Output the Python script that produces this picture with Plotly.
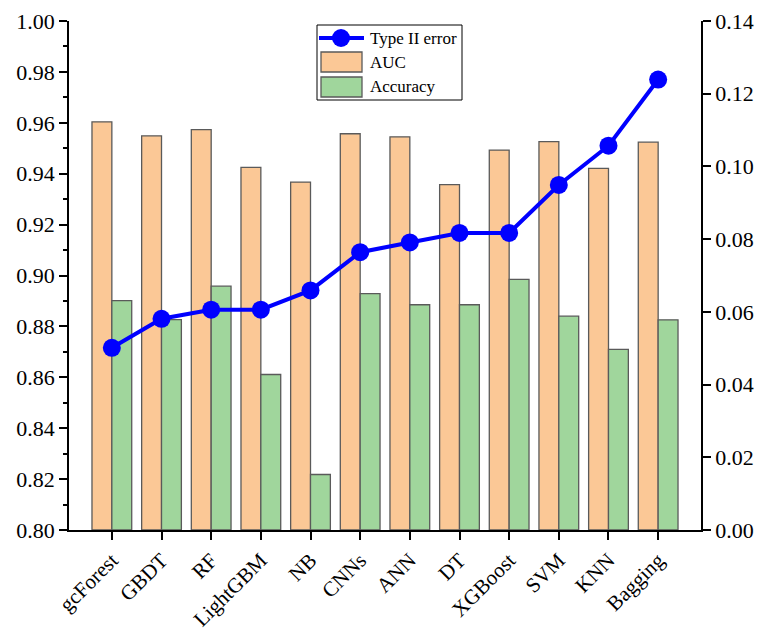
import plotly.graph_objects as go

models = ["gcForest", "GBDT", "RF", "LightGBM", "NB", "CNNs", "ANN", "DT",
          "XGBoost", "SVM", "KNN", "Bagging"]
auc = [0.9604, 0.9549, 0.9573, 0.9425, 0.9367, 0.9557, 0.9545, 0.9357,
       0.9493, 0.9526, 0.9421, 0.9524]
accuracy = [0.8901, 0.8827, 0.8958, 0.8611, 0.8218, 0.8929, 0.8885, 0.8885,
            0.8985, 0.8840, 0.8710, 0.8826]
type2_error = [0.0501, 0.0581, 0.0606, 0.0606, 0.0659, 0.0764, 0.0791, 0.0817,
               0.0817, 0.0949, 0.1057, 0.1239]

left_ticks = [0.80, 0.82, 0.84, 0.86, 0.88, 0.90, 0.92, 0.94, 0.96, 0.98, 1.00]
right_ticks = [0.00, 0.02, 0.04, 0.06, 0.08, 0.10, 0.12, 0.14]

FONT = "Liberation Serif"
ORANGE = "#FBC896"
GREEN = "#A0D69C"
BLUE = "#0000FF"
EDGE = "#5a5a5a"

W, H = 757, 634
ML, MR, MT, MB = 69, 56, 21, 104
PW, PH = W - ML - MR, H - MT - MB


def px(x):
    """Horizontal pixel position -> paper fraction."""
    return (x - ML) / PW


def py(y):
    """Vertical pixel position (from top) -> paper fraction."""
    return (H - MB - y) / PH


fig = go.Figure()

fig.add_trace(go.Scatter(
    x=models, y=type2_error, name="Type II error", yaxis="y2",
    mode="lines+markers",
    line=dict(color=BLUE, width=4),
    marker=dict(color=BLUE, size=18),
    showlegend=False,
))
fig.add_trace(go.Bar(
    x=models, y=[v - 0.8 for v in auc], base=0.8, name="AUC",
    marker=dict(color=ORANGE, line=dict(color=EDGE, width=1.3)),
    showlegend=False,
))
fig.add_trace(go.Bar(
    x=models, y=[v - 0.8 for v in accuracy], base=0.8, name="Accuracy",
    marker=dict(color=GREEN, line=dict(color=EDGE, width=1.3)),
    showlegend=False,
))

# Legend box with wide swatches
shapes = [
    dict(type="rect", xref="paper", yref="paper",
         x0=px(317), x1=px(462), y0=py(100), y1=py(25),
         line=dict(color="black", width=1), fillcolor="white", layer="above"),
    dict(type="line", xref="paper", yref="paper",
         x0=px(319), x1=px(364), y0=py(38), y1=py(38),
         line=dict(color=BLUE, width=4), layer="above"),
    dict(type="circle", xref="paper", yref="paper",
         xsizemode="pixel", ysizemode="pixel",
         xanchor=px(341), yanchor=py(38),
         x0=-9, x1=9, y0=-9, y1=9,
         line=dict(color=BLUE, width=0), fillcolor=BLUE, layer="above"),
    dict(type="rect", xref="paper", yref="paper",
         x0=px(321), x1=px(362), y0=py(72), y1=py(52),
         line=dict(color=EDGE, width=1.3), fillcolor=ORANGE, layer="above"),
    dict(type="rect", xref="paper", yref="paper",
         x0=px(321), x1=px(362), y0=py(97), y1=py(77),
         line=dict(color=EDGE, width=1.3), fillcolor=GREEN, layer="above"),
]
legend_font = dict(family=FONT, size=17, color="black")
annotations = [
    dict(text=name, xref="paper", yref="paper", x=px(368), y=py(yc),
         xanchor="left", yanchor="middle", showarrow=False, font=legend_font)
    for name, yc in [("Type II error", 38), ("AUC", 62), ("Accuracy", 87)]
]

y_font = dict(family=FONT, size=22, color="black")
x_font = dict(family=FONT, size=21, color="black")

fig.update_layout(
    width=W, height=H,
    margin=dict(l=ML, r=MR, t=MT, b=MB, autoexpand=False),
    paper_bgcolor="white", plot_bgcolor="white",
    font=dict(family=FONT, color="black"),
    barmode="group", bargap=0.2, bargroupgap=0,
    showlegend=False,
    shapes=shapes,
    annotations=annotations,
    xaxis=dict(
        type="category", showgrid=False, showline=True, linecolor="black",
        linewidth=1.5, ticks="outside", ticklen=8, tickwidth=1.5,
        tickcolor="black", tickangle=-45, tickfont=x_font,
        zeroline=False, automargin=False,
    ),
    yaxis=dict(
        range=[0.8, 1.0], tickvals=left_ticks,
        ticktext=[f"{v:.2f}" for v in left_ticks],
        showgrid=False, showline=True, linecolor="black", linewidth=1.5,
        ticks="outside", ticklen=8, tickwidth=1.5, tickcolor="black",
        minor=dict(dtick=0.01, ticks="outside", ticklen=4, tickwidth=1.5,
                   tickcolor="black", showgrid=False),
        tickfont=y_font, zeroline=False, automargin=False,
    ),
    yaxis2=dict(
        range=[0.0, 0.14], tickvals=right_ticks,
        ticktext=[f"{v:.2f}" for v in right_ticks],
        overlaying="y", side="right",
        showgrid=False, showline=True, linecolor="black", linewidth=1.5,
        ticks="outside", ticklen=8, tickwidth=1.5, tickcolor="black",
        tickfont=y_font, zeroline=False, automargin=False,
    ),
)

fig.write_html("out.html")
